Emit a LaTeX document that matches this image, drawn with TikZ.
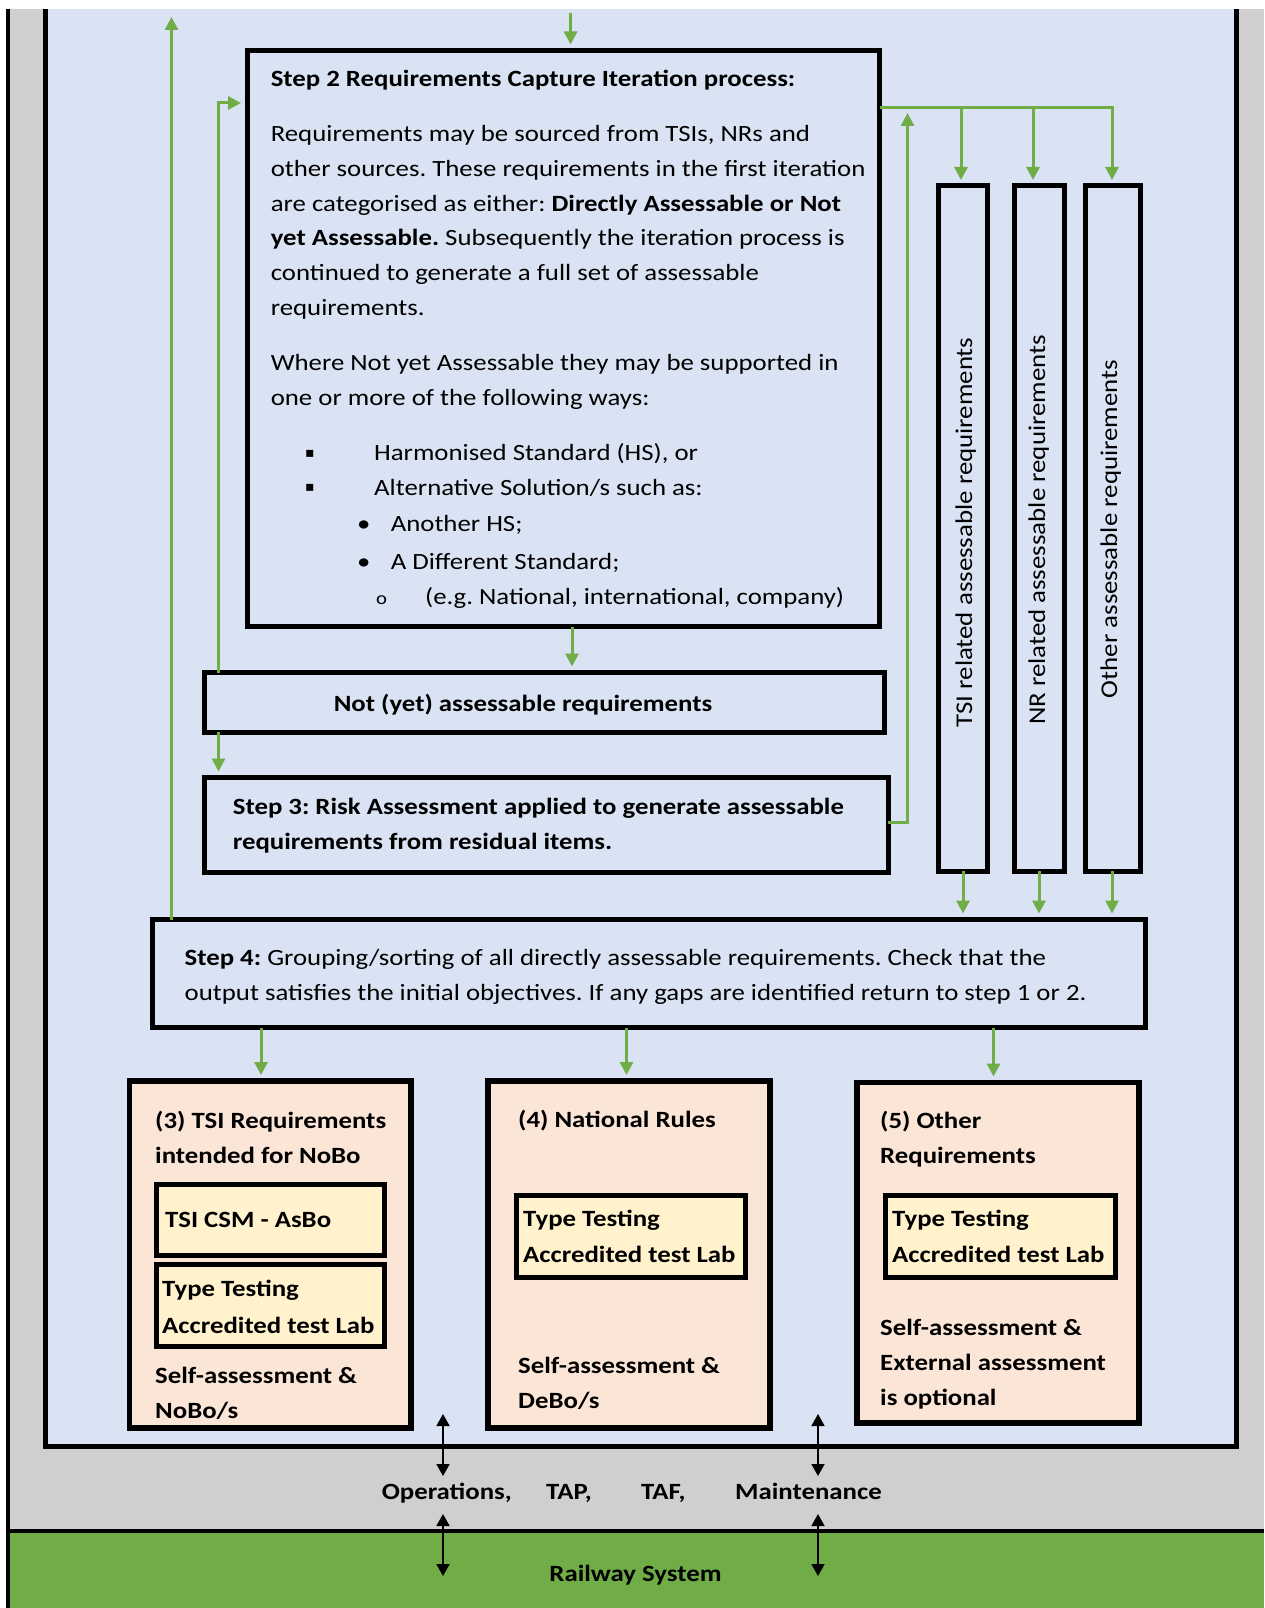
\documentclass[tikz,border=0pt]{standalone}
\usepackage{fontspec}
\setmainfont{Carlito}[FakeStretch=1.15]
\newfontfamily\vfont{Carlito}[FakeStretch=1.12]
\newfontfamily\symfont{DejaVu Sans}
\usetikzlibrary{arrows.meta}
\definecolor{bgblue}{RGB}{218,227,243}
\definecolor{frgray}{RGB}{208,206,206}
\definecolor{grn}{RGB}{112,173,71}
\definecolor{peach}{RGB}{251,229,214}
\definecolor{pyellow}{RGB}{255,242,204}
\newcommand\fs{\fontsize{23.3}{28}\selectfont}
\frenchspacing
\begin{document}
\frenchspacing
\begin{tikzpicture}[x=1pt,y=-1pt,
  bx/.style={draw=black, anchor=north west, inner sep=0pt, outer sep=0pt},
  stepbox/.style={bx, fill=bgblue, line width=5pt},
  resbox/.style={bx, fill=peach, line width=5.5pt},
  labbox/.style={bx, fill=pyellow, line width=5pt},
  txt/.style={anchor=base west, inner sep=0pt, font=\fs},
  btxt/.style={txt, font=\fs\bfseries},
  vtxt/.style={anchor=base, inner sep=0pt, rotate=90, font=\vfont\fontsize{24}{28}\selectfont},
  gline/.style={draw=grn, line width=3pt},
  garrow/.style={gline, -{Triangle[length=13pt,width=13pt]}, shorten >=6pt},
  darrow/.style={draw=black, line width=1.8pt, {Triangle[length=12pt,width=13pt]}-{Triangle[length=12pt,width=13pt]}}
]
\useasboundingbox (0,0) rectangle (1264,1608);
% background frame
\fill[white] (0,0) rectangle (1264,1608);
\fill[frgray] (8,9) rectangle (1264,1531);
\fill[grn] (8,1531) rectangle (1264,1608);
\fill[bgblue] (45,9) rectangle (1236.5,1446);
\draw[line width=5pt] (45.3,9) -- (45.3,1446) -- (1236.5,1446) -- (1236.5,9);
\draw[line width=4pt] (8.2,9) -- (8.2,1608);
\draw[line width=4pt] (8,1531) -- (1264,1531);

% boxes
\node[stepbox, minimum width=632.5pt, minimum height=576pt] (step2) at (247,50.5) {};
\node[stepbox, minimum width=680pt, minimum height=59.5pt] (notyet) at (204,672.5) {};
\node[stepbox, minimum width=684pt, minimum height=95pt] (step3) at (204,777.5) {};
\node[stepbox, minimum width=49pt, minimum height=685pt] (tsi) at (938,186) {};
\node[stepbox, minimum width=50.5pt, minimum height=685pt] (nr) at (1014,186) {};
\node[stepbox, minimum width=55.5pt, minimum height=685pt] (oth) at (1085,186) {};
\node[stepbox, minimum width=993pt, minimum height=108pt] (step4) at (152,919.5) {};
\node[resbox, minimum width=281.5pt, minimum height=347pt] (box3) at (129.5,1081) {};
\node[resbox, minimum width=282pt, minimum height=347pt] (box4) at (488,1081) {};
\node[resbox, minimum width=282pt, minimum height=340.5pt] (box5) at (857,1082.5) {};
\node[labbox, minimum width=228.7pt, minimum height=71pt] (in3a) at (156,1184) {};
\node[labbox, minimum width=228.7pt, minimum height=82pt] (in3b) at (156,1264) {};
\node[labbox, minimum width=229pt, minimum height=82pt] (in4) at (516,1195) {};
\node[labbox, minimum width=230pt, minimum height=82pt] (in5) at (885,1195) {};

% step 2 text
\node[btxt] (s2t) at (270.6,87) {Step 2 Requirements Capture Iteration process:};
\node[txt] (s2a) at (270.6,141.7) {Requirements may be sourced from TSIs, NRs and};
\node[txt] (s2b) at (270.6,176.4) {other sources. These requirements in the first iteration};
\node[txt] (s2c) at (270.6,211.1) {are categorised as either: \textbf{Directly Assessable or Not}};
\node[txt] (s2d) at (270.6,245.8) {\textbf{yet Assessable.} Subsequently the iteration process is};
\node[txt] (s2e) at (270.6,280.5) {continued to generate a full set of assessable};
\node[txt] (s2f) at (270.6,315.2) {requirements.};
\node[txt] (s2g) at (270.6,370) {Where Not yet Assessable they may be supported in};
\node[txt] (s2h) at (270.6,405) {one or more of the following ways:};
\node[txt] (b1) at (305,457.5) {\symfont\fontsize{14}{16}\selectfont ▪};
\node[txt] (s2i) at (374,460.7) {Harmonised Standard (HS), or};
\node[txt] (b2) at (305,491.8) {\symfont\fontsize{14}{16}\selectfont ▪};
\node[txt] (s2j) at (374,495) {Alternative Solution/s such as:};
\node[txt] (b3) at (357,531.7) {•};
\node[txt] (s2k) at (390.6,531.7) {Another HS;};
\node[txt] (b4) at (357,569) {•};
\node[txt] (s2l) at (390.6,569) {A Different Standard;};
\node[txt] (b5) at (376,604) {\fontsize{18}{20}\selectfont o};
\node[txt] (s2m) at (425,604) {(e.g. National, international, company)};

% other step texts
\node[btxt, anchor=base] (nyt) at (523,711) {Not (yet) assessable requirements};
\node[btxt] (s3a) at (232.7,814) {Step 3: Risk Assessment applied to generate assessable};
\node[btxt] (s3b) at (232.7,849) {requirements from residual items.};
\node[txt] (s4a) at (184.5,965) {\textbf{Step 4:} Grouping/sorting of all directly assessable requirements. Check that the};
\node[txt] (s4b) at (184.5,1000) {output satisfies the initial objectives. If any gaps are identified return to step 1 or 2.};

% vertical texts
\node[vtxt] (tsit) at (972,532.5) {TSI related assessable requirements};
\node[vtxt] (nrt) at (1045,530) {NR related assessable requirements};
\node[vtxt] (otht) at (1117,529) {Other assessable requirements};

% bottom box texts
\node[btxt] (t3a) at (155,1128) {(3) TSI Requirements};
\node[btxt] (t3b) at (155,1163) {intended for NoBo};
\node[btxt] (t3c) at (165,1227) {TSI CSM - AsBo};
\node[btxt] (t3d) at (162,1296) {Type Testing};
\node[btxt] (t3e) at (162,1333) {Accredited test Lab};
\node[btxt] (t3f) at (155,1383) {Self-assessment \&};
\node[btxt] (t3g) at (155,1418) {NoBo/s};
\node[btxt] (t4a) at (518,1127) {(4) National Rules};
\node[btxt] (t4b) at (523,1226.5) {Type Testing};
\node[btxt] (t4c) at (523,1262) {Accredited test Lab};
\node[btxt] (t4d) at (518,1373) {Self-assessment \&};
\node[btxt] (t4e) at (518,1408) {DeBo/s};
\node[btxt] (t5a) at (880,1128) {(5) Other};
\node[btxt] (t5b) at (880,1163) {Requirements};
\node[btxt] (t5c) at (892,1226.5) {Type Testing};
\node[btxt] (t5d) at (892,1262) {Accredited test Lab};
\node[btxt] (t5e) at (880,1335) {Self-assessment \&};
\node[btxt] (t5f) at (880,1370) {External assessment};
\node[btxt] (t5g) at (880,1405) {is optional};

% bottom labels
\node[btxt] (ops) at (381.6,1499) {Operations,};
\node[btxt] (tap) at (546,1499) {TAP,};
\node[btxt] (taf) at (641,1499) {TAF,};
\node[btxt] (mnt) at (735,1499) {Maintenance};
\node[btxt, anchor=base] (rail) at (635.5,1581) {Railway System};

% helper coordinates
\coordinate (topin) at (570.6,13);
\coordinate (xA) at (572,0);
\coordinate (xL) at (218.5,0);
\coordinate (yL) at (0,103);
\coordinate (yE) at (0,822);
\coordinate (xE) at (907.5,0);
\coordinate (yT) at (0,113);
\coordinate (yD) at (0,108);
\coordinate (xDend) at (1114,0);
\coordinate (xT1) at (961,0);
\coordinate (xT2) at (1033,0);
\coordinate (xT3) at (1112,0);
\coordinate (xB1) at (963,0);
\coordinate (xB2) at (1039,0);
\coordinate (xB3) at (1112,0);
\coordinate (xU) at (171.5,0);
\coordinate (yTop) at (0,17);
\coordinate (xR3) at (261,0);
\coordinate (xR4) at (626.5,0);
\coordinate (xR5) at (993.5,0);
\coordinate (da1) at (443,1414);
\coordinate (da2) at (443,1476);
\coordinate (da3) at (443,1514);
\coordinate (da4) at (443,1576);
\coordinate (db1) at (818,1414);
\coordinate (db2) at (818,1476);
\coordinate (db3) at (818,1514);
\coordinate (db4) at (818,1576);

% green connectors
\draw[garrow] (topin) -- (topin |- step2.north);
\draw[garrow] (step2.south -| xA) -- (notyet.north -| xA);
\draw[garrow] (notyet.north -| xL) |- (yL -| step2.west);
\draw[garrow] (notyet.south -| xL) -- (step3.north -| xL);
\draw[garrow, shorten >=0pt] (yE -| step3.east) -| (xE |- yT);
\draw[gline] (yD -| step2.east) -- (xDend |- yD);
\draw[garrow] (xT1 |- yD) -- (xT1 |- tsi.north);
\draw[garrow] (xT2 |- yD) -- (xT2 |- nr.north);
\draw[garrow] (xT3 |- yD) -- (xT3 |- oth.north);
\draw[garrow] (tsi.south -| xB1) -- (step4.north -| xB1);
\draw[garrow] (nr.south -| xB2) -- (step4.north -| xB2);
\draw[garrow] (oth.south -| xB3) -- (step4.north -| xB3);
\draw[garrow, shorten >=0pt] (step4.north -| xU) -- (xU |- yTop);
\draw[garrow] (step4.south -| xR3) -- (box3.north -| xR3);
\draw[garrow] (step4.south -| xR4) -- (box4.north -| xR4);
\draw[garrow] (step4.south -| xR5) -- (box5.north -| xR5);

% black double arrows
\draw[darrow] (da1) -- (da2);
\draw[darrow] (da3) -- (da4);
\draw[darrow] (db1) -- (db2);
\draw[darrow] (db3) -- (db4);
\end{tikzpicture}
\end{document}
